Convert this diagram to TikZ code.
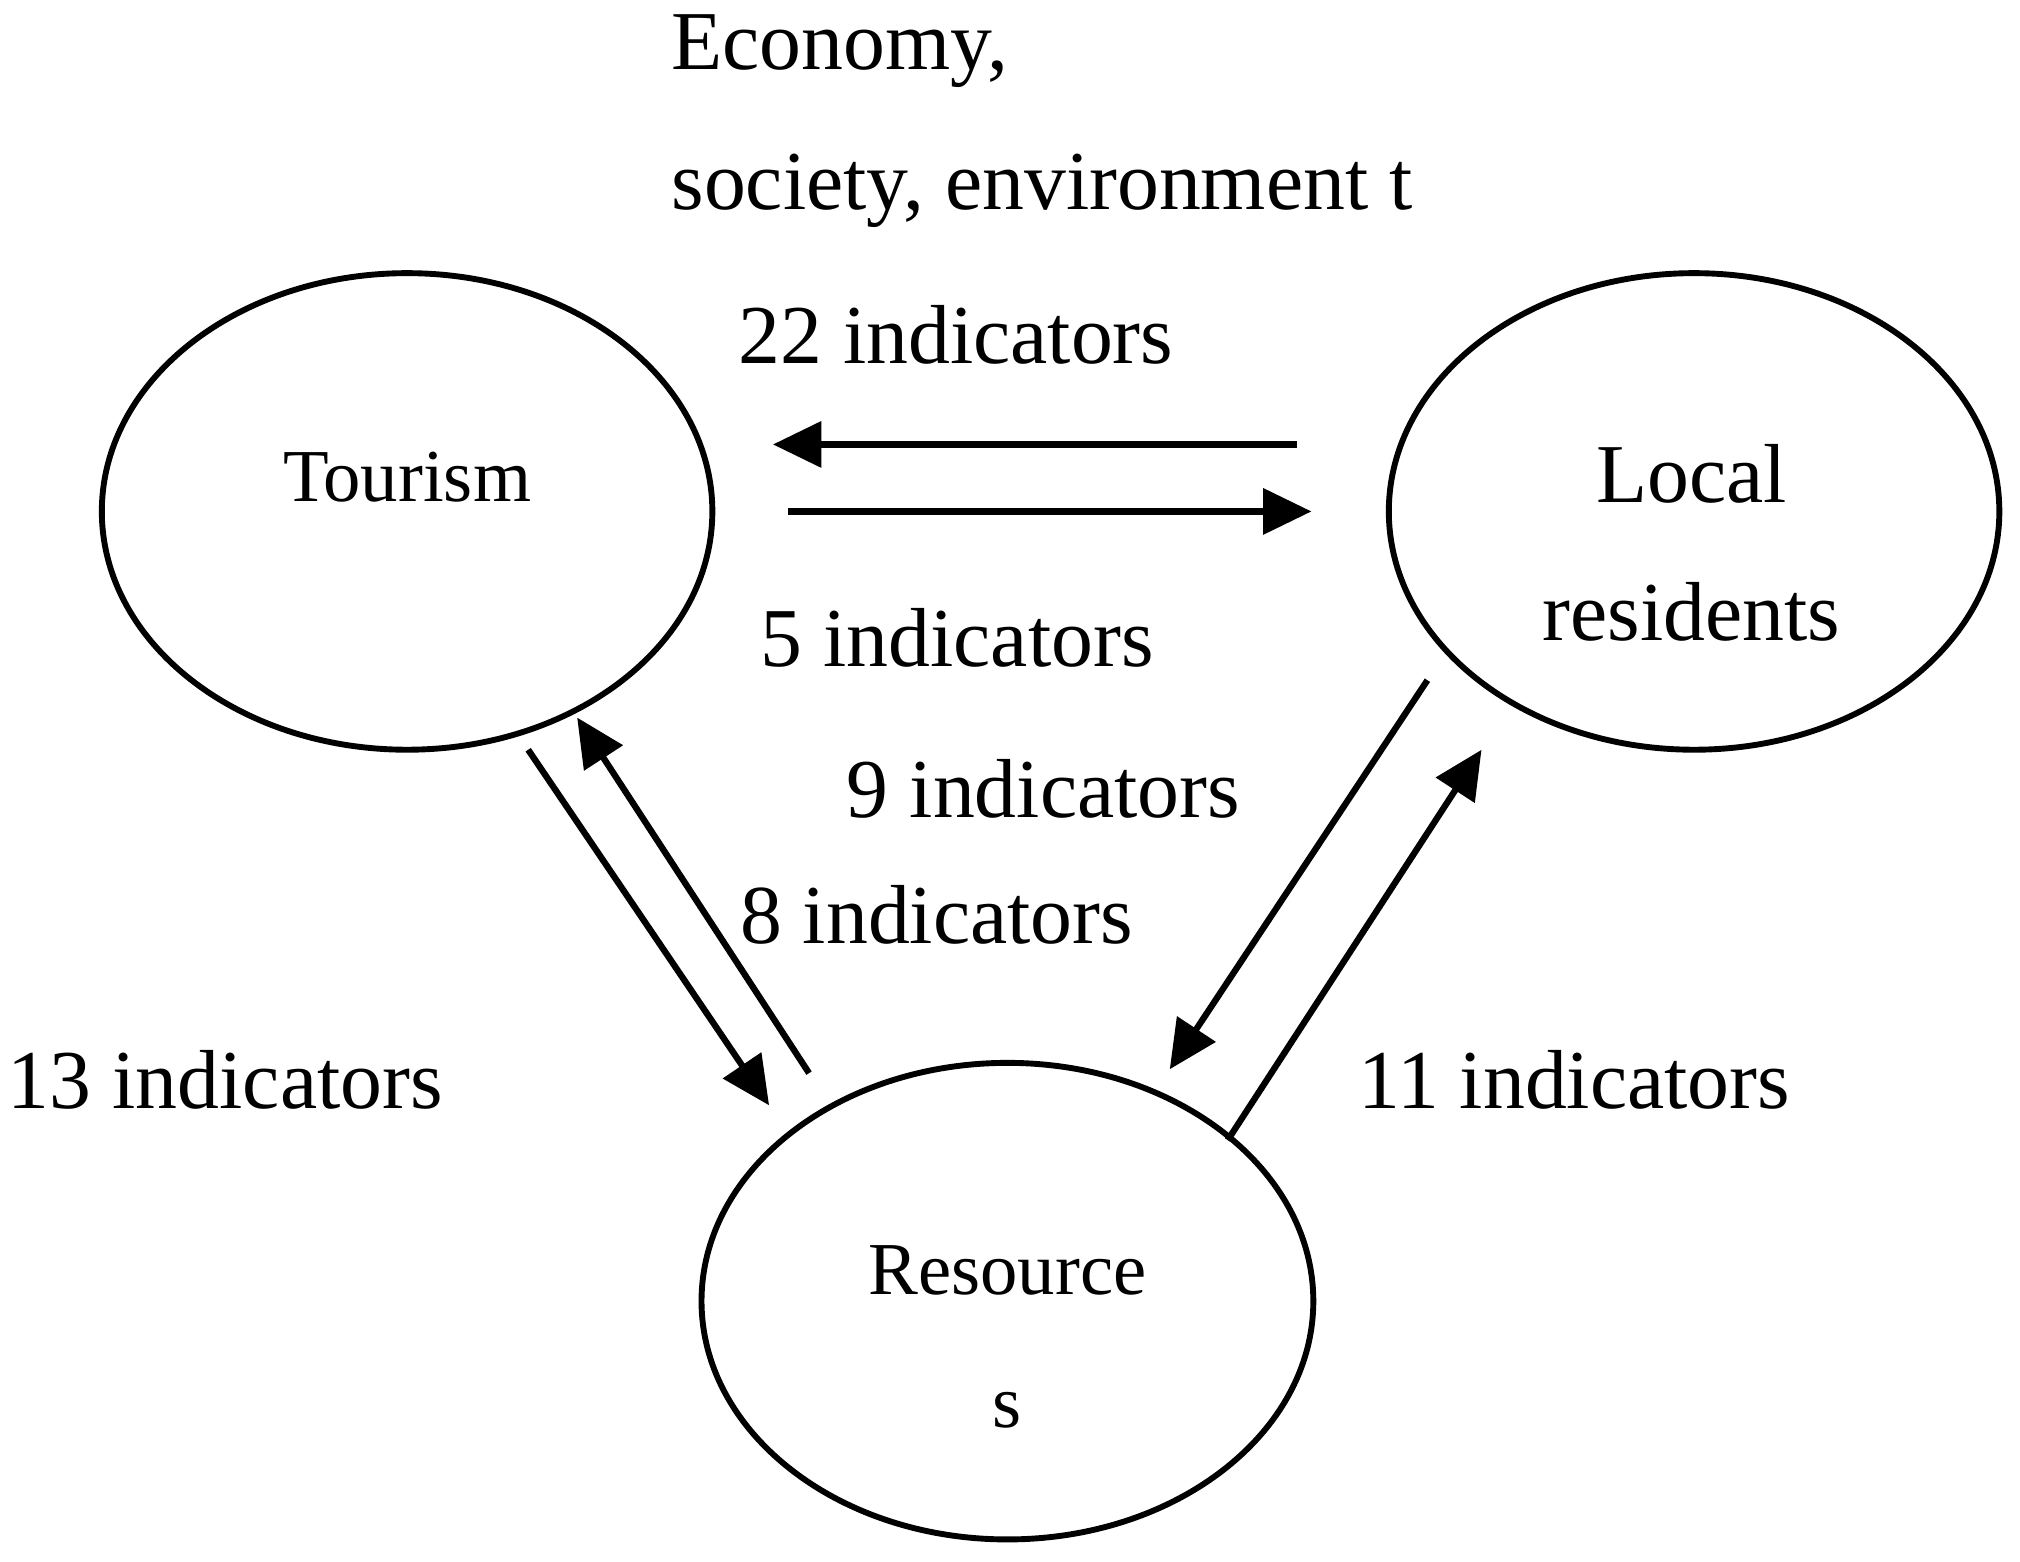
\documentclass[tikz,border=0pt]{standalone}
\usepackage{fontspec}
\setmainfont{Liberation Serif}
\usetikzlibrary{shapes.geometric,arrows.meta}
\begin{document}
\begin{tikzpicture}[x={(0.02cm,0)},y={(0,-0.02cm)},
  ell/.style={draw,line width=2.6pt,ellipse,inner sep=0pt},
  arr/.style={line width=2.8pt,-{Triangle[length=0.75cm,width=0.7cm]}},
  lab/.style={font=\fontsize{37}{44}\selectfont},
  inl/.style={font=\fontsize{33}{40}\selectfont}]
\useasboundingbox (0,0) rectangle (1568,1212);
\node[ell,minimum width=9.48cm,minimum height=7.4cm] (T) at (316,397) {};
\node[ell,minimum width=9.48cm,minimum height=7.4cm] (L) at (1315,397) {};
\node[ell,minimum width=9.5cm,minimum height=7.4cm] (R) at (782,1010) {};
\node[inl] (tt) at (316,370) {Tourism};
\node[lab] (lt1) at (1313,368) {Local};
\node[lab] (lt2) at (1313,475) {residents};
\node[inl] (rt1) at (782,986) {Resource};
\node[inl] (rt2) at (782,1095) {s};
\node[lab,anchor=west] (e1) at (515,40) {Economy,};
\node[lab,anchor=west] (e2) at (515,148) {society, environment t};
\node[lab] (n22) at (742,260) {22 indicators};
\node[lab] (n5) at (743,495) {5 indicators};
\node[lab] (n9) at (810,612) {9 indicators};
\node[lab] (n8) at (727,710) {8 indicators};
\node[lab] (n13) at (175,838) {13 indicators};
\node[lab] (n11) at (1222,838) {11 indicators};
\coordinate (a1) at (1007,345); \coordinate (b1) at (600,345);
\coordinate (a2) at (612,397); \coordinate (b2) at (1018,397);
\coordinate (a3) at (410,582); \coordinate (b3) at (597,858);
\coordinate (a4) at (628,833); \coordinate (b4) at (448,557);
\coordinate (a5) at (1108,528); \coordinate (b5) at (908,830);
\coordinate (a6) at (953,885); \coordinate (b6) at (1150,582);
\draw[arr] (a1) -- (b1);
\draw[arr] (a2) -- (b2);
\draw[arr] (a3) -- (b3);
\draw[arr] (a4) -- (b4);
\draw[arr] (a5) -- (b5);
\draw[arr] (a6) -- (b6);
\end{tikzpicture}
\end{document}
